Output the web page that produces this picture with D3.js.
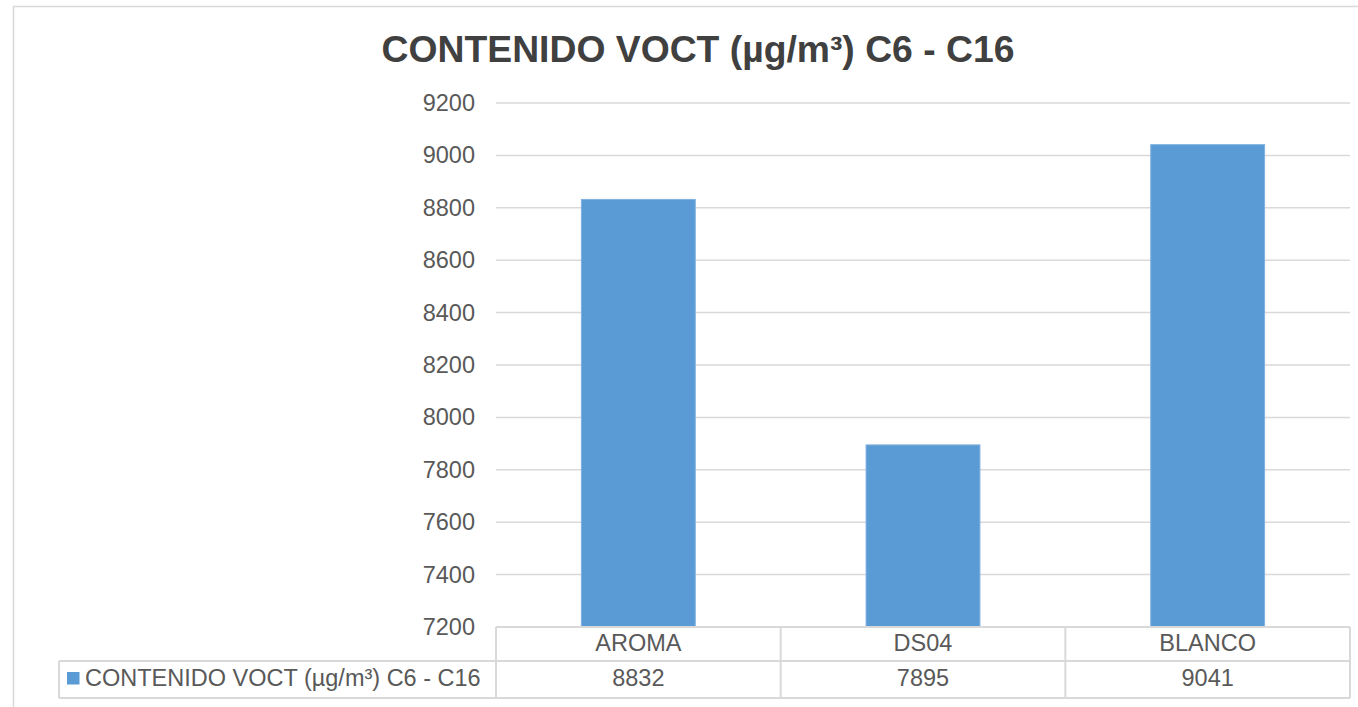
<!DOCTYPE html>
<html>
<head>
<meta charset="utf-8">
<script src="https://cdn.jsdelivr.net/npm/d3@7"></script>
<style>
  body { margin: 0; background: #fff; }
  text { font-family: "Liberation Sans", Arial, sans-serif; }
</style>
</head>
<body>
<svg id="chart" width="1358" height="707"></svg>
<script>
// datos del gráfico
var categorias = ["AROMA", "DS04", "BLANCO"];
var valores = [8832, 7895, 9041];
var ticks = [7200, 7400, 7600, 7800, 8000, 8200, 8400, 8600, 8800, 9000, 9200];
var serie = "CONTENIDO VOCT (µg/m³) C6 - C16";
var titulo = "CONTENIDO VOCT (µg/m³) C6 - C16";

var svg = d3.select("#chart");
var plot = { left: 496, right: 1350, top: 103, bottom: 627 };
var rowH = [34, 37];
var fs = "23.5px";

// borde exterior del área del gráfico
svg.append("rect")
    .attr("x", 13.5).attr("y", 6.5)
    .attr("width", 1400).attr("height", 760)
    .attr("fill", "#fff")
    .attr("stroke", "#d9d9d9").attr("stroke-width", 1.5);

var x = d3.scaleBand().domain(categorias).range([plot.left, plot.right]).paddingInner(0.6).paddingOuter(0.3);
var xCell = d3.scaleBand().domain(categorias).range([plot.left, plot.right]);
var y = d3.scaleLinear().domain([7200, 9200]).range([plot.bottom, plot.top]);

// título
svg.append("text")
    .attr("x", 698).attr("y", 62)
    .attr("text-anchor", "middle")
    .style("font-size", "37.3px").style("font-weight", "bold")
    .style("fill", "#404040")
    .text(titulo);

// líneas de la cuadrícula
svg.append("g").selectAll("line")
    .data(ticks.slice(1))
    .enter().append("line")
    .attr("x1", plot.left).attr("x2", plot.right)
    .attr("y1", d => y(d)).attr("y2", d => y(d))
    .style("stroke", "#d9d9d9").style("stroke-width", 1.5);

// eje Y
var yAxis = d3.axisLeft(y).tickValues(ticks).tickFormat(d3.format("d")).tickSize(0).tickPadding(21);
var gy = svg.append("g")
    .attr("transform", "translate(" + plot.left + ",0)")
    .call(yAxis);
gy.select(".domain").remove();
gy.selectAll("text")
    .style("font-size", fs).style("fill", "#595959");

// barras
svg.append("g").selectAll("rect")
    .data(valores)
    .enter().append("rect")
    .attr("x", (d, i) => x(categorias[i]))
    .attr("width", x.bandwidth())
    .attr("y", d => y(d))
    .attr("height", d => y(7200) - y(d))
    .attr("fill", "#5b9bd5")
    .attr("stroke", "#7fb1e0").attr("stroke-width", 1);

// tabla de datos
var t0 = plot.bottom, t1 = t0 + rowH[0], t2 = t1 + rowH[1];
var legendLeft = 59;
var grid = svg.append("g").style("stroke", "#d9d9d9").style("stroke-width", 2).style("fill", "none");
grid.append("line").attr("x1", plot.left).attr("x2", plot.right).attr("y1", t0).attr("y2", t0);
grid.append("line").attr("x1", legendLeft).attr("x2", plot.right).attr("y1", t1).attr("y2", t1);
grid.append("line").attr("x1", legendLeft).attr("x2", plot.right).attr("y1", t2).attr("y2", t2);
grid.append("line").attr("x1", legendLeft).attr("x2", legendLeft).attr("y1", t1).attr("y2", t2);
grid.selectAll(".v")
    .data(categorias.map(c => xCell(c)).concat([plot.right]))
    .enter().append("line")
    .attr("x1", d => d).attr("x2", d => d)
    .attr("y1", t0).attr("y2", t2);

svg.append("g").selectAll("text")
    .data(categorias)
    .enter().append("text")
    .attr("x", d => xCell(d) + xCell.bandwidth() / 2)
    .attr("y", t0 + 24)
    .attr("text-anchor", "middle")
    .style("font-size", fs).style("fill", "#595959")
    .text(d => d);

svg.append("g").selectAll("text")
    .data(valores)
    .enter().append("text")
    .attr("x", (d, i) => xCell(categorias[i]) + xCell.bandwidth() / 2)
    .attr("y", t1 + 25)
    .attr("text-anchor", "middle")
    .style("font-size", fs).style("fill", "#595959")
    .text(d => d);

// leyenda
svg.append("rect")
    .attr("x", 67).attr("y", t1 + 11)
    .attr("width", 12.5).attr("height", 12.5)
    .attr("fill", "#5b9bd5");
svg.append("text")
    .attr("x", 85).attr("y", t1 + 25)
    .style("font-size", fs).style("fill", "#595959")
    .text(serie);
</script>
</body>
</html>
